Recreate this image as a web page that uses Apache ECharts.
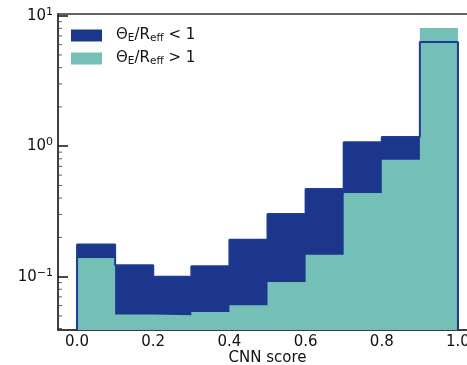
<!DOCTYPE html>
<html>
<head>
<meta charset="utf-8">
<script src="https://cdn.jsdelivr.net/npm/echarts@6/dist/echarts.min.js"></script>
<style>
  html, body { margin: 0; padding: 0; background: #fff; }
  #chart { width: 467px; height: 365px; }
</style>
</head>
<body>
<div id="chart"></div>
<script>
// bin left edges of the CNN score histogram
var binEdges = [0.0, 0.1, 0.2, 0.3, 0.4, 0.5, 0.6, 0.7, 0.8, 0.9];
var binEnd = 1.0;
// Theta_E / R_eff < 1
var smallRatio = [0.176, 0.122, 0.100, 0.120, 0.192, 0.302, 0.470, 1.07, 1.175, 6.29];
// Theta_E / R_eff > 1
var largeRatio = [0.139, 0.0512, 0.0505, 0.0536, 0.0603, 0.091, 0.147, 0.438, 0.788, 8.05];
var xTicks = [0.0, 0.2, 0.4, 0.6, 0.8, 1.0];
var yTicks = [0.1, 1, 10];
var minorTicks = [0.04, 0.05, 0.06, 0.07, 0.08, 0.09, 0.2, 0.3, 0.4, 0.5, 0.6, 0.7, 0.8, 0.9, 2, 3, 4, 5, 6, 7, 8, 9];

var xMin = -0.05, xMax = 1.05;
var yMin = 0.039, yMax = 10.3;

// histogram as a step polygon: left edge of each bin, then the closing right edge
function stepData(vals) {
    var d = binEdges.map(function(b, i) { return [b, vals[i]]; });
    d.push([binEnd, vals[vals.length - 1]]);
    return d;
}

var outline = [[binEdges[0], yMin]].concat(stepData(smallRatio));
outline.push([binEnd, yMin]);

var myChart = echarts.init(document.getElementById('chart'));

var option = {
    animation: false,
    textStyle: { fontFamily: 'DejaVu Sans' },
    grid: {
        left: 58,
        right: -10,
        top: 14,
        bottom: 35,
        outerBoundsMode: 'none',
        containLabel: false,
        show: true,
        borderColor: '#333',
        borderWidth: 1.5
    },
    legend: {
        left: 66,
        top: 23,
        orient: 'vertical',
        icon: 'rect',
        itemWidth: 31,
        itemHeight: 12,
        itemGap: 7,
        data: ['lt', 'gt'],
        formatter: function(name) {
            var sign = name === 'lt' ? '<' : '>';
            return 'Θ{sub|E}/R{sub|eff} ' + sign + ' 1';
        },
        textStyle: {
            fontSize: 15,
            color: '#111',
            padding: [0, 0, 0, 9],
            rich: {
                sub: { fontSize: 10.5, padding: [6, 0, 0, 0], color: '#111' }
            }
        }
    },
    xAxis: {
        type: 'value',
        min: xMin,
        max: xMax,
        name: 'CNN score',
        nameLocation: 'middle',
        nameGap: 21,
        nameMoveOverlap: false,
        nameTextStyle: { fontSize: 15, color: '#111', verticalAlign: 'top' },
        axisLine: { onZero: false, lineStyle: { color: '#333', width: 1.5 } },
        axisTick: {
            inside: true,
            length: 10,
            lineStyle: { color: '#111', width: 1.5 },
            customValues: xTicks
        },
        axisLabel: {
            fontSize: 15,
            color: '#111',
            margin: 5,
            customValues: xTicks,
            formatter: function(v) { return v.toFixed(1); }
        },
        splitLine: { show: false }
    },
    yAxis: {
        type: 'log',
        min: yMin,
        max: yMax,
        axisLine: { onZero: false, lineStyle: { color: '#333', width: 1.5 } },
        axisTick: {
            inside: true,
            length: 10,
            lineStyle: { color: '#111', width: 1.5 },
            customValues: yTicks
        },
        axisLabel: {
            fontSize: 15,
            color: '#111',
            margin: 5,
            customValues: yTicks,
            formatter: function(v) {
                var p = Math.round(Math.log10(v));
                return '10{sup|' + (p < 0 ? '−' + (-p) : p) + '}';
            },
            rich: {
                sup: { fontSize: 11, padding: [0, 0, 8, 0], color: '#111' }
            }
        },
        splitLine: { show: false },
        minorTick: { show: false }
    },
    series: [
        {
            name: 'lt',
            type: 'line',
            step: 'end',
            showSymbol: false,
            color: '#1c368b',
            lineStyle: { width: 0, opacity: 0 },
            areaStyle: { color: '#1c368b', opacity: 1, origin: 'start' },
            data: stepData(smallRatio),
            z: 2
        },
        {
            name: 'gt',
            type: 'line',
            step: 'end',
            showSymbol: false,
            color: '#74c0b7',
            lineStyle: { width: 0, opacity: 0 },
            areaStyle: { color: '#74c0b7', opacity: 1, origin: 'start' },
            data: stepData(largeRatio),
            z: 3
        },
        {
            name: 'outline',
            type: 'line',
            step: 'end',
            showSymbol: false,
            color: '#1f3a98',
            lineStyle: { width: 2, color: '#1f3a98' },
            data: outline,
            z: 4
        },
        {
            name: 'minor',
            type: 'scatter',
            symbol: 'rect',
            symbolSize: [4, 1],
            symbolOffset: [2, 0],
            itemStyle: { color: '#333' },
            data: minorTicks.map(function(v) { return [xMin, v]; }),
            silent: true,
            z: 5
        }
    ]
};

option && myChart.setOption(option);
</script>
</body>
</html>
